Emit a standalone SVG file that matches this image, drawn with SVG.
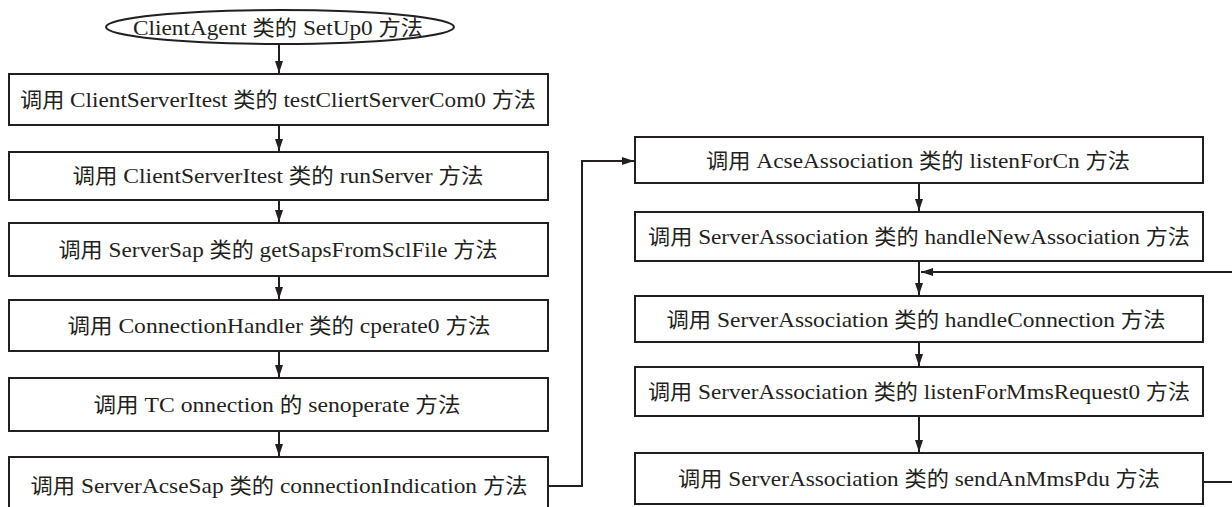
<svg xmlns="http://www.w3.org/2000/svg" width="1232" height="507" viewBox="0 0 1232 507">
<style>
.box{fill:#fff;stroke:#231f20;stroke-width:2}
.t{font-family:"Liberation Serif","DejaVu Serif",serif;font-size:22px;fill:#231f20;text-anchor:middle}
.k{font-family:"Noto Sans CJK SC",sans-serif;font-size:21px}
.c{fill:none;stroke:#231f20;stroke-width:2}
</style>
<defs>
<marker id="ah" viewBox="0 0 12 8" refX="12" refY="4" markerWidth="12" markerHeight="8" markerUnits="userSpaceOnUse" orient="auto">
<path d="M0,0 L12,4 L0,8 Z" fill="#231f20"/>
</marker>
</defs>
<rect width="1232" height="507" fill="#fff"/>
<g id="connectors">
<line class="c" x1="279" y1="44" x2="279" y2="73" marker-end="url(#ah)"/>
<line class="c" x1="279" y1="125" x2="279" y2="151" marker-end="url(#ah)"/>
<line class="c" x1="279" y1="200" x2="279" y2="222" marker-end="url(#ah)"/>
<line class="c" x1="279" y1="276" x2="279" y2="299" marker-end="url(#ah)"/>
<line class="c" x1="279" y1="351" x2="279" y2="377" marker-end="url(#ah)"/>
<line class="c" x1="279" y1="431" x2="279" y2="456" marker-end="url(#ah)"/>
<polyline class="c" points="548,486 582,486 582,161 634,161" marker-end="url(#ah)"/>
<line class="c" x1="919" y1="183" x2="919" y2="211" marker-end="url(#ah)"/>
<line class="c" x1="919" y1="261" x2="919" y2="295" marker-end="url(#ah)"/>
<line class="c" x1="919" y1="342" x2="919" y2="366" marker-end="url(#ah)"/>
<line class="c" x1="919" y1="416" x2="919" y2="452" marker-end="url(#ah)"/>
<polyline class="c" points="1203,482 1236,482 1236,272 921,272" marker-end="url(#ah)"/>
</g>
<g id="start">
<ellipse cx="280" cy="27" rx="174" ry="17" class="box"/>
<text class="t" x="278" y="35" textLength="290" lengthAdjust="spacingAndGlyphs">ClientAgent <tspan class="k">类的</tspan> SetUp0 <tspan class="k">方法</tspan></text>
</g>
<g id="L1">
<rect class="box" x="9" y="74" width="539" height="51"/>
<text class="t" x="278" y="107" textLength="516" lengthAdjust="spacingAndGlyphs"><tspan class="k">调用</tspan> ClientServerItest <tspan class="k">类的</tspan> testCliertServerCom0 <tspan class="k">方法</tspan></text>
</g>
<g id="L2">
<rect class="box" x="9" y="152" width="539" height="48"/>
<text class="t" x="278" y="183" textLength="411" lengthAdjust="spacingAndGlyphs"><tspan class="k">调用</tspan> ClientServerItest <tspan class="k">类的</tspan> runServer <tspan class="k">方法</tspan></text>
</g>
<g id="L3">
<rect class="box" x="9" y="223" width="539" height="53"/>
<text class="t" x="278" y="257" textLength="439" lengthAdjust="spacingAndGlyphs"><tspan class="k">调用</tspan> ServerSap <tspan class="k">类的</tspan> getSapsFromSclFile <tspan class="k">方法</tspan></text>
</g>
<g id="L4">
<rect class="box" x="9" y="300" width="539" height="51"/>
<text class="t" x="279" y="333" textLength="423" lengthAdjust="spacingAndGlyphs"><tspan class="k">调用</tspan> ConnectionHandler <tspan class="k">类的</tspan> cperate0 <tspan class="k">方法</tspan></text>
</g>
<g id="L5">
<rect class="box" x="9" y="378" width="539" height="53"/>
<text class="t" x="277" y="412" textLength="367" lengthAdjust="spacingAndGlyphs"><tspan class="k">调用</tspan> TC onnection <tspan class="k">的</tspan> senoperate <tspan class="k">方法</tspan></text>
</g>
<g id="L6">
<rect class="box" x="9" y="457" width="539" height="53"/>
<text class="t" x="279" y="493" textLength="497" lengthAdjust="spacingAndGlyphs"><tspan class="k">调用</tspan> ServerAcseSap <tspan class="k">类的</tspan> connectionIndication <tspan class="k">方法</tspan></text>
</g>
<g id="R1">
<rect class="box" x="635" y="137" width="568" height="46"/>
<text class="t" x="918" y="168" textLength="424" lengthAdjust="spacingAndGlyphs"><tspan class="k">调用</tspan> AcseAssociation <tspan class="k">类的</tspan> listenForCn <tspan class="k">方法</tspan></text>
</g>
<g id="R2">
<rect class="box" x="635" y="212" width="568" height="49"/>
<text class="t" x="919" y="244" textLength="542" lengthAdjust="spacingAndGlyphs"><tspan class="k">调用</tspan> ServerAssociation <tspan class="k">类的</tspan> handleNewAssociation <tspan class="k">方法</tspan></text>
</g>
<g id="R3">
<rect class="box" x="635" y="296" width="568" height="46"/>
<text class="t" x="916" y="327" textLength="499" lengthAdjust="spacingAndGlyphs"><tspan class="k">调用</tspan> ServerAssociation <tspan class="k">类的</tspan> handleConnection <tspan class="k">方法</tspan></text>
</g>
<g id="R4">
<rect class="box" x="635" y="367" width="568" height="49"/>
<text class="t" x="919" y="399" textLength="542" lengthAdjust="spacingAndGlyphs"><tspan class="k">调用</tspan> ServerAssociation <tspan class="k">类的</tspan> listenForMmsRequest0 <tspan class="k">方法</tspan></text>
</g>
<g id="R5">
<rect class="box" x="635" y="453" width="568" height="51"/>
<text class="t" x="919" y="486" textLength="482" lengthAdjust="spacingAndGlyphs"><tspan class="k">调用</tspan> ServerAssociation <tspan class="k">类的</tspan> sendAnMmsPdu <tspan class="k">方法</tspan></text>
</g>
</svg>
